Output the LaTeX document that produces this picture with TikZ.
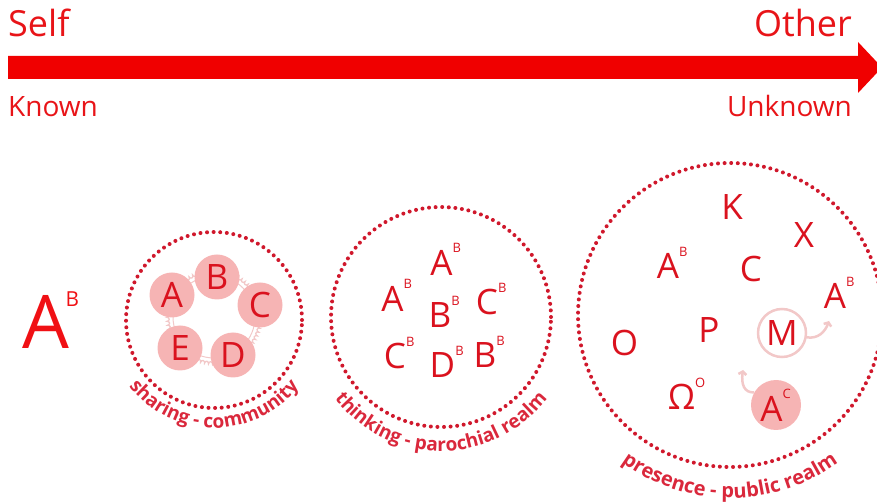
\documentclass[tikz,border=0pt]{standalone}
\usepackage{fontspec}
\setmainfont{Open Sans}
\usepackage{graphicx}
\usetikzlibrary{decorations.text,decorations.pathmorphing,arrows.meta}
\definecolor{arrowred}{RGB}{240,0,0}
\definecolor{headred}{RGB}{232,20,24}
\definecolor{letterred}{RGB}{218,18,30}
\definecolor{bigred}{RGB}{240,16,20}
\definecolor{dotred}{RGB}{208,24,44}
\definecolor{labelred}{RGB}{218,40,60}
\definecolor{bubblepink}{RGB}{246,180,180}
\definecolor{ringpink}{RGB}{242,200,200}
\newcommand\supl[2]{#1\rlap{\smash{\raisebox{0.63em}{\scalebox{0.37}{#2}}}}}
\begin{document}
\begin{tikzpicture}[x=1pt,y=1pt,
  head/.style={text=headred, inner sep=0pt, font=\fontsize{36}{36}\selectfont},
  sub/.style={text=headred, inner sep=0pt, font=\fontsize{28}{28}\selectfont},
  dotcircle/.style={draw=dotred, line width=4pt, line cap=round, dash pattern=on 0pt off 6.6pt},
  letter/.style={text=letterred, inner sep=0pt, font=\fontsize{35}{35}\selectfont},
  bubble/.style={circle, fill=bubblepink, minimum size=45pt, inner sep=0pt, text=letterred, font=\fontsize{35}{35}\selectfont},
  squig/.style={draw=ringpink, line width=2.5pt, -{Straight Barb[length=3pt,width=8pt]}},
]
\useasboundingbox (0,0) rectangle (877,503);

% top arrow
\fill[arrowred] (8,424) -- (858,424) -- (858,410) -- (882,435.5) -- (858,461) -- (858,447) -- (8,447) -- cycle;
\node[head, anchor=base west] (self) at (8,466) {Self};
\node[head, anchor=base east] (other) at (852,466) {Other};
\node[sub, anchor=base west] (known) at (8,386) {Known};
\node[sub, anchor=base east] (unknown) at (852,386) {Unknown};

% single A^B
\node[inner sep=0pt, text=bigred, font=\fontsize{74}{74}\selectfont] (bigA) at (44,181) {A\kern-0.05em\rlap{\smash{\raisebox{0.57em}{\scalebox{0.28}{B}}}}};

% circle 1: sharing - community
\coordinate (c1) at (214,183);
\coordinate (ring) at (214,186);
\draw[dotcircle] (c1) circle[radius=88];
\draw[ringpink, line width=1.3pt, decorate, decoration={bumps, segment length=8pt, amplitude=2.2pt}] (ring) circle[radius=47];
\draw[ringpink, line width=1pt] (ring) circle[radius=41];
\node[bubble] (bA) at (172,208) {A};
\node[bubble] (bB) at (217,226) {B};
\node[bubble] (bC) at (260,198) {C};
\node[bubble] (bE) at (180,155) {E};
\node[bubble] (bD) at (233,148) {D};
\path[decorate, decoration={text along path, text align=center, text color=labelred,
  text={|\bfseries\fontsize{19}{19}\selectfont|sharing - community}}]
  ([shift={(185:108)}]c1) arc[start angle=185, end angle=355, radius=108];

% circle 2: thinking - parochial realm
\coordinate (c2) at (441,186);
\draw[dotcircle] (c2) circle[radius=110];
\node[letter] (t1) at (441.5,240.5) {\supl{A}{B}};
\node[letter] (t2) at (392.5,204.5) {\supl{A}{B}};
\node[letter] (t3) at (440,188) {\supl{B}{B}};
\node[letter] (t4) at (487,201) {\supl{C}{B}};
\node[letter] (t5) at (395,147) {\supl{C}{B}};
\node[letter] (t6) at (442.5,138) {\supl{D}{B}};
\node[letter] (t7) at (485,148) {\supl{B}{B}};
\path[decorate, decoration={text along path, text align=center, text color=labelred,
  text={|\bfseries\fontsize{19}{19}\selectfont|thinking - parochial realm}}]
  ([shift={(185:134)}]c2) arc[start angle=185, end angle=355, radius=134];

% circle 3: presence - public realm
\coordinate (c3) at (730,188);
\draw[dotcircle] (c3) circle[radius=152];
\node[letter] (pK) at (732,295.5) {K};
\node[letter] (pX) at (804,267.5) {X};
\node[letter] (pA1) at (668,237) {\supl{A}{B}};
\node[letter] (pC) at (751,233.5) {C};
\node[letter] (pA2) at (835,207) {\supl{A}{B}};
\node[letter] (pO) at (624.5,160.5) {O};
\node[letter] (pP) at (709,172.5) {P};
\node[circle, draw=ringpink, line width=2.5pt, fill=white, minimum size=48pt, inner sep=0pt, text=letterred, font=\fontsize{35}{35}\selectfont] (mc) at (782,170) {M};
\node[letter] (pW) at (681.5,106.5) {\supl{Ω}{O}};
\node[circle, fill=bubblepink, minimum size=50pt, inner sep=0pt] (ac) at (776,98) {};
\node[letter] (pAc) at (771.5,94.5) {\supl{A}{C}};
\coordinate (e1) at (829,182);
\coordinate (e2) at (743,133);
\draw[squig] (mc.-10) .. controls (818,164) and (825,171) .. (e1);
\draw[squig] (ac.150) .. controls (744,110) and (741,119) .. (e2);
\path[decorate, decoration={text along path, text align=center, text color=labelred,
  text={|\bfseries\fontsize{20}{20}\selectfont|presence - public realm}}]
  ([shift={(198:183)}]c3) arc[start angle=198, end angle=342, radius=183];
\end{tikzpicture}
\end{document}
